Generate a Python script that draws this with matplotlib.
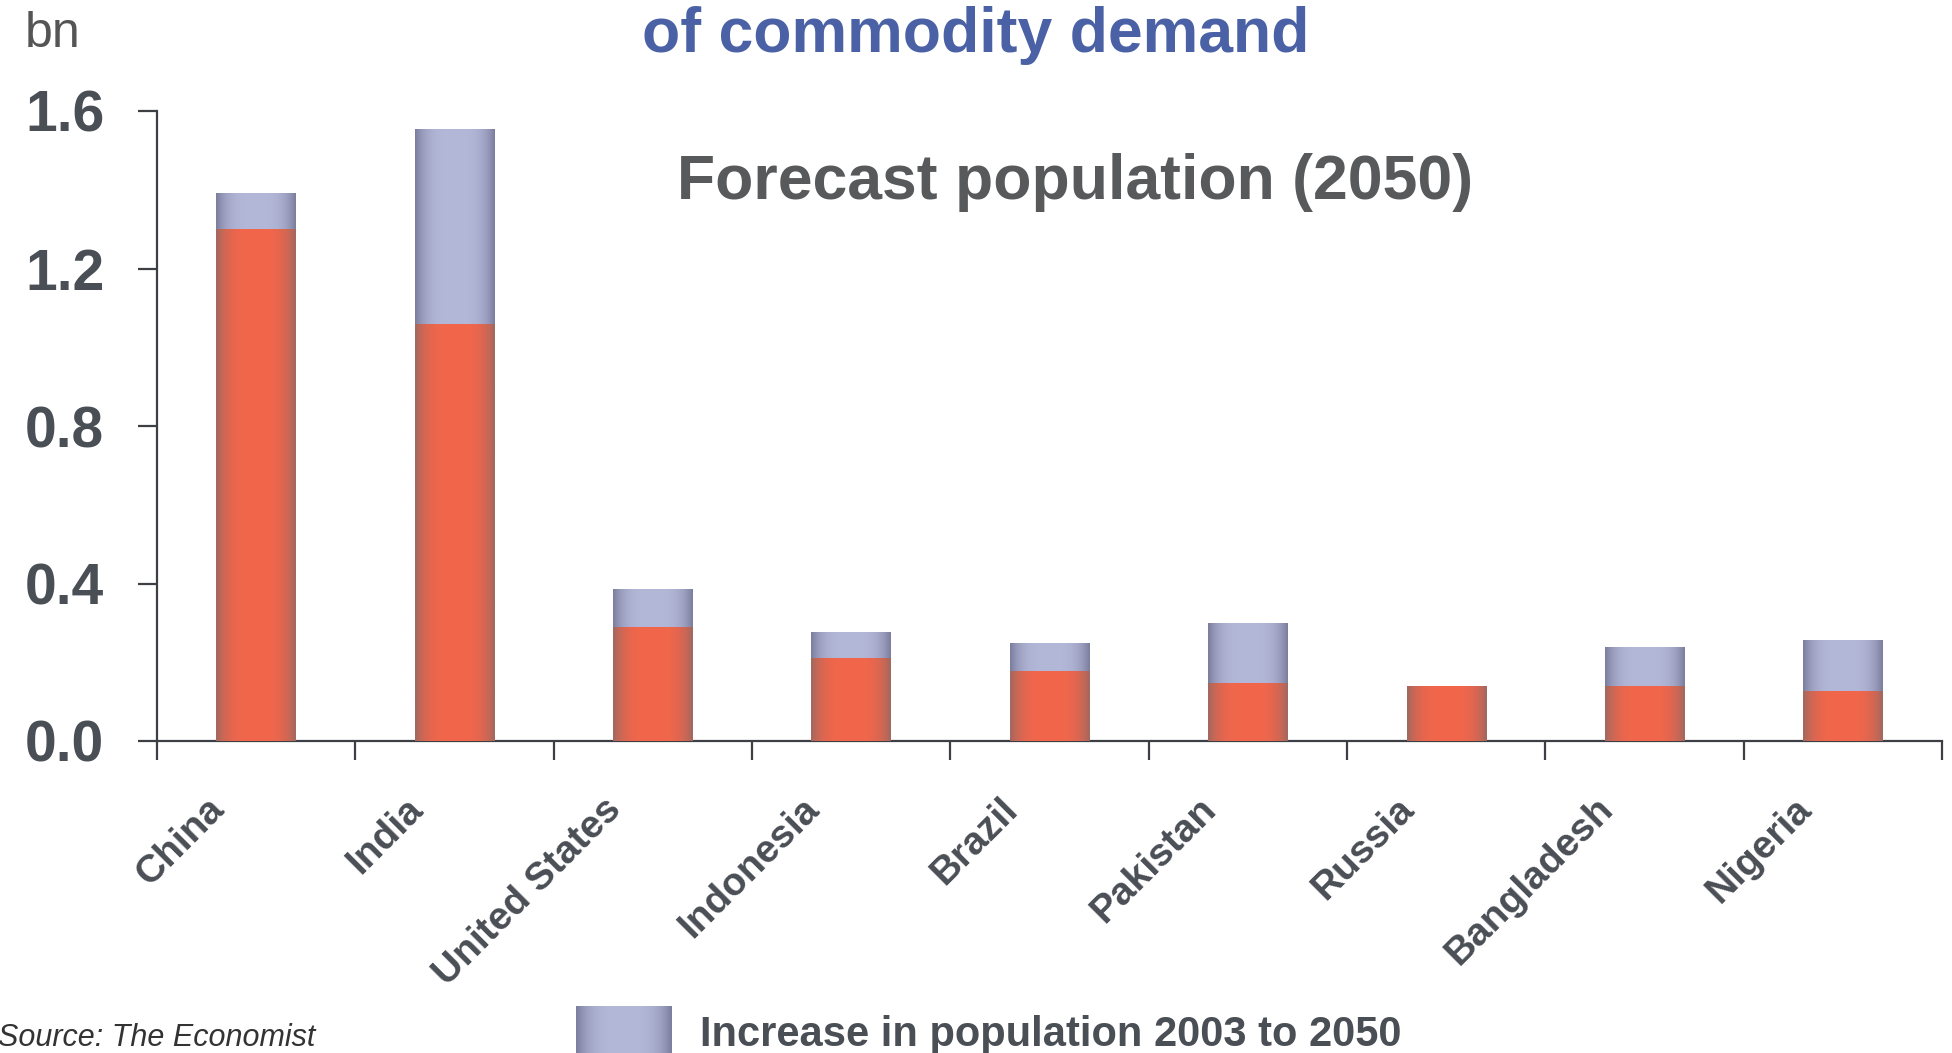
import numpy as np
import matplotlib
matplotlib.use("Agg")
import matplotlib.pyplot as plt
from matplotlib.colors import to_rgb

# Population data (billions)
countries = ["China", "India", "United States", "Indonesia", "Brazil",
             "Pakistan", "Russia", "Bangladesh", "Nigeria"]
pop_2003 = [1.30, 1.06, 0.290, 0.211, 0.177, 0.147, 0.138, 0.140, 0.126]
increase = [0.089, 0.495, 0.095, 0.065, 0.070, 0.151, 0.0, 0.097, 0.128]
yticks = [0.0, 0.4, 0.8, 1.2, 1.6]
ytick_labels = ["0.0", "0.4", "0.8", "1.2", "1.6"]

FONT = "Liberation Sans"
TEXT = "#4a4e55"
AXIS = "#3c3f44"
ORANGE_MID, ORANGE_EDGE = "#f2664b", "#a3685f"
BLUE_MID, BLUE_EDGE = "#b4b8d8", "#7c7ea0"

W, H = 1952, 1053
fig = plt.figure(figsize=(W / 100, H / 100), dpi=100)

# Full-figure layer for free-standing texts, in pixel coordinates
ov = fig.add_axes([0, 0, 1, 1])
ov.set_xlim(0, W)
ov.set_ylim(H, 0)
ov.axis("off")

ax = fig.add_axes([157 / W, (H - 741) / H, (1942 - 157) / W, (741 - 111) / H])
ax.patch.set_alpha(0)


def shade(mid, edge, n=64):
    """Horizontal cylinder-like shading from edge to centre to edge."""
    t = np.linspace(0, 1, n)
    d = np.abs(2 * t - 1)
    w = d ** 3.5
    m, e = np.array(to_rgb(mid)), np.array(to_rgb(edge))
    cols = m[None, :] * (1 - w[:, None]) + e[None, :] * w[:, None]
    return cols[None, :, :]


def fill_gradient(target, x0, x1, y0, y1, mid, edge, z):
    target.imshow(shade(mid, edge), extent=[x0, x1, y0, y1], aspect="auto",
                  interpolation="bilinear", zorder=z, origin="lower")


x = np.arange(len(countries))
bw = 0.4
base_bars = ax.bar(x, pop_2003, width=bw, color=ORANGE_MID, zorder=2)
top_bars = ax.bar(x, increase, width=bw, bottom=pop_2003, color=BLUE_MID, zorder=2)

for bars, mid, edge in ((base_bars, ORANGE_MID, ORANGE_EDGE), (top_bars, BLUE_MID, BLUE_EDGE)):
    for p in bars:
        if p.get_height() <= 0:
            continue
        x0, y0 = p.get_x(), p.get_y()
        fill_gradient(ax, x0, x0 + p.get_width(), y0, y0 + p.get_height(), mid, edge, 3)

ax.set_xlim(-0.5, len(countries) - 0.5)
ax.set_ylim(0, 1.6)

for s in ("top", "right"):
    ax.spines[s].set_visible(False)
for s in ("left", "bottom"):
    ax.spines[s].set_color(AXIS)
    ax.spines[s].set_linewidth(1.6)

ax.set_xticks(np.arange(-0.5, len(countries), 1.0))
ax.set_xticklabels([])
ax.tick_params(axis="x", length=14, width=1.6, color=AXIS, direction="out")
ax.set_yticks(yticks)
ax.set_yticklabels(ytick_labels, fontsize=41, fontweight="bold", color=TEXT,
                   fontfamily=FONT)
ax.tick_params(axis="y", length=14, width=1.6, color=AXIS, direction="out", pad=24)

# Rotated category labels below each bar
for xi, name in zip(x, countries):
    ax.annotate(name, xy=(xi, 0), xycoords="data", xytext=(-36, -36),
                textcoords="offset points", rotation=45, rotation_mode="anchor",
                ha="right", va="top", fontsize=28, fontweight="bold",
                color=TEXT, fontfamily=FONT)

ov.text(976, 52, "of commodity demand", ha="center", va="baseline", fontsize=45,
        fontweight="bold", color="#4a61a5", fontfamily=FONT)
ov.text(25, 47, "bn", ha="left", va="baseline", fontsize=36, color="#555555",
        fontfamily=FONT)
ov.text(1075, 199, "Forecast population (2050)", ha="center", va="baseline",
        fontsize=45, fontweight="bold", color="#58595b", fontfamily=FONT)

fill_gradient(ov, 576, 672, 1070, 1006, BLUE_MID, BLUE_EDGE, 1)
ov.text(700, 1046, "Increase in population 2003 to 2050", ha="left", va="baseline",
        fontsize=30, fontweight="bold", color=TEXT, fontfamily=FONT)
ov.text(-2, 1046, "Source: The Economist", ha="left", va="baseline", fontsize=22,
        style="italic", color="#333333", fontfamily=FONT)
ov.set_xlim(0, W)
ov.set_ylim(H, 0)

fig.savefig("out.png", dpi=100)
